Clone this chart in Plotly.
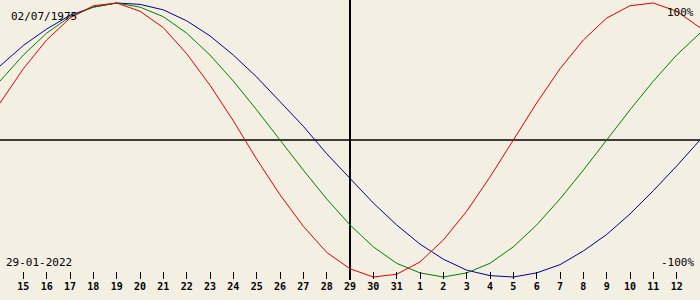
import plotly.graph_objects as go

# days relative to 29-01-2022 (centre line)
day_offsets = list(range(-15, 16))
tick_offsets = list(range(-14, 15))
tick_labels = ["15", "16", "17", "18", "19", "20", "21", "22", "23", "24", "25", "26",
               "27", "28", "29", "30", "31", "1", "2", "3", "4", "5", "6", "7", "8",
               "9", "10", "11", "12"]

physical = [0.27, 0.52, 0.73, 0.89, 0.98, 1.00, 0.94, 0.82, 0.63, 0.40, 0.14, -0.14,
            -0.40, -0.63, -0.82, -0.94, -1.00, -0.98, -0.89, -0.73, -0.52, -0.27, 0.00,
            0.27, 0.52, 0.73, 0.89, 0.98, 1.00, 0.94, 0.82]
emotional = [0.43, 0.62, 0.78, 0.90, 0.97, 1.00, 0.97, 0.90, 0.78, 0.62, 0.43, 0.22,
             0.00, -0.22, -0.43, -0.62, -0.78, -0.90, -0.97, -1.00, -0.97, -0.90, -0.78,
             -0.62, -0.43, -0.22, 0.00, 0.22, 0.43, 0.62, 0.78]
intellectual = [0.54, 0.69, 0.81, 0.91, 0.97, 1.00, 0.99, 0.95, 0.87, 0.76, 0.62, 0.46,
                0.28, 0.10, -0.10, -0.28, -0.46, -0.62, -0.76, -0.87, -0.95, -0.99, -1.00,
                -0.97, -0.91, -0.81, -0.69, -0.54, -0.37, -0.19, 0.00]

birth_label = "02/07/1975"
date_label = "29-01-2022"

BG = "#f3efe3"
fig = go.Figure()
fig.add_trace(go.Scatter(x=day_offsets, y=intellectual, mode="lines",
                         line=dict(color="#000099", width=1), hoverinfo="skip"))
fig.add_trace(go.Scatter(x=day_offsets, y=emotional, mode="lines",
                         line=dict(color="#008000", width=1), hoverinfo="skip"))
fig.add_trace(go.Scatter(x=day_offsets, y=physical, mode="lines",
                         line=dict(color="#e00000", width=1), hoverinfo="skip"))

ymax = 1 + 3 / 137
ymin = -1 - 23 / 137

# crosshair
fig.add_shape(type="line", xref="x", yref="y", x0=-15, x1=15, y0=0, y1=0,
              line=dict(color="black", width=1.5), layer="below")
fig.add_shape(type="line", xref="x", yref="paper", x0=0, x1=0, y0=20 / 300, y1=1,
              line=dict(color="black", width=2), layer="below")

font = dict(family="DejaVu Sans Mono", size=11, color="black")
anns = [
    dict(text=birth_label, x=9 / 700, y=1 - 17 / 300, xanchor="left"),
    dict(text="100%", x=696 / 700, y=1 - 12 / 300, xanchor="right"),
    dict(text=date_label, x=4 / 700, y=1 - 262 / 300, xanchor="left"),
    dict(text="-100%", x=696 / 700, y=1 - 262 / 300, xanchor="right"),
]
for a in anns:
    fig.add_annotation(xref="paper", yref="paper", showarrow=False, font=font,
                       yanchor="middle", **a)

fig.update_layout(
    width=700, height=300, margin=dict(l=0, r=0, t=0, b=0),
    paper_bgcolor=BG, plot_bgcolor=BG, showlegend=False,
    xaxis=dict(range=[-15, 15], tickvals=tick_offsets, ticktext=tick_labels,
               ticks="inside", ticklen=7, tickcolor="black", tickwidth=1,
               showgrid=False, zeroline=False, showline=False,
               anchor="free", position=21 / 300,
               tickfont=dict(family="DejaVu Sans Mono", size=10, color="black", weight="bold")),
    yaxis=dict(range=[ymin, ymax], visible=False, showgrid=False, zeroline=False),
)

fig.write_html("out.html")
